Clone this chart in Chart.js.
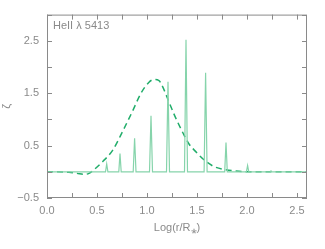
<!DOCTYPE html>
<html>
<head>
<meta charset="utf-8">
<script src="https://cdn.jsdelivr.net/npm/chart.js@4"></script>
<style>
  html, body { margin: 0; padding: 0; background: #fff; }
  #wrap { width: 325px; height: 249px; }
</style>
</head>
<body>
<div id="wrap"><canvas id="chart" width="325" height="249"></canvas></div>
<script>
// dashed (smooth) curve
const dashX = [0.00, 0.09, 0.22, 0.30, 0.37, 0.42, 0.47, 0.56, 0.656, 0.756, 0.856, 0.94, 1.02, 1.07, 1.12, 1.15, 1.21, 1.27, 1.36, 1.42, 1.49, 1.57, 1.67, 1.79, 1.92, 2.10, 2.60];
const dashY = [0.00, 0.00, -0.01, -0.03, -0.05, -0.03, 0.04, 0.20, 0.41, 0.77, 1.16, 1.50, 1.71, 1.76, 1.74, 1.65, 1.38, 1.10, 0.74, 0.53, 0.38, 0.23, 0.10, 0.04, 0.01, 0.00, 0.00];

// solid curve with the narrow spikes
const solidX = [0.00, 0.585, 0.597, 0.609, 0.718, 0.730, 0.742, 0.862, 0.876, 0.890, 1.025, 1.040, 1.055, 1.195, 1.210, 1.225, 1.375, 1.390, 1.405, 1.571, 1.586, 1.601, 1.777, 1.790, 1.803, 1.994, 2.006, 2.018, 2.230, 2.240, 2.250, 2.60];
const solidY = [0.00, 0.00, 0.15, 0.00, 0.00, 0.35, 0.00, 0.00, 0.64, 0.00, 0.00, 1.07, 0.00, 0.00, 1.72, 0.00, 0.00, 2.52, 0.00, 0.00, 1.89, 0.00, 0.00, 0.56, 0.00, 0.00, 0.12, 0.00, 0.00, 0.02, 0.00, 0.00];

const xLabels = [0.0, 0.5, 1.0, 1.5, 2.0, 2.5];
const yLabels = [-0.5, 0.5, 1.5, 2.5];

const gray = '#8a8a8a';
const font = { family: 'Liberation Sans, Arial, sans-serif', size: 11 };

const toPoints = (xs, ys) => xs.map((x, i) => ({ x: x, y: ys[i] }));

// frame, inward tick marks and the line label
const framePlugin = {
    id: 'frame',
    afterDraw(chart) {
        const c = chart.ctx;
        const a = chart.chartArea;
        const sx = chart.scales.x, sy = chart.scales.y;
        c.save();
        c.strokeStyle = gray;
        c.lineWidth = 1;
        c.strokeRect(a.left + 0.5, a.top + 0.5, a.right - a.left - 1, a.bottom - a.top - 1);
        c.beginPath();
        sx.ticks.forEach(t => {
            const px = Math.round(sx.getPixelForValue(t.value)) + 0.5;
            c.moveTo(px, a.bottom); c.lineTo(px, a.bottom - 5);
            c.moveTo(px, a.top); c.lineTo(px, a.top + 5);
        });
        sy.ticks.forEach(t => {
            const py = Math.round(sy.getPixelForValue(t.value)) + 0.5;
            c.moveTo(a.left, py); c.lineTo(a.left + 5, py);
            c.moveTo(a.right, py); c.lineTo(a.right - 5, py);
        });
        c.stroke();
        c.fillStyle = gray;
        c.font = '11px ' + font.family;
        c.textBaseline = 'middle';
        c.fillText('HeII \u03bb 5413', a.left + 6, a.top + 11);
        c.restore();
    }
};

new Chart(document.getElementById('chart'), {
    type: 'scatter',
    data: {
        datasets: [{
            data: toPoints(solidX, solidY),
            showLine: true,
            borderColor: '#86d4ab',
            borderWidth: 1.2,
            pointRadius: 0,
            tension: 0
        }, {
            data: toPoints(dashX, dashY),
            showLine: true,
            borderColor: '#21ad6a',
            borderWidth: 1.5,
            borderDash: [6, 4],
            pointRadius: 0,
            cubicInterpolationMode: 'monotone'
        }]
    },
    options: {
        responsive: false,
        animation: false,
        layout: { padding: { top: 5, right: 18, left: 0, bottom: 14 } },
        plugins: { legend: { display: false }, tooltip: { enabled: false } },
        scales: {
            x: {
                type: 'linear',
                min: 0, max: 2.6,
                afterFit: s => { s.height = 37; },
                grid: { display: false, drawTicks: false },
                border: { display: false },
                ticks: {
                    stepSize: 0.25,
                    includeBounds: false,
                    padding: 6,
                    maxRotation: 0,
                    autoSkip: false,
                    color: gray,
                    font: font,
                    callback: v => xLabels.some(l => Math.abs(l - v) < 1e-6) ? v.toFixed(1) : ''
                },
                title: { display: true, text: 'Log(r/R\u204e)', color: gray, font: font, padding: 0 }
            },
            y: {
                type: 'linear',
                min: -0.5, max: 3.0,
                afterFit: s => { s.width = 47; },
                grid: { display: false, drawTicks: false },
                border: { display: false },
                ticks: {
                    stepSize: 0.5,
                    padding: 8,
                    autoSkip: false,
                    color: gray,
                    font: font,
                    callback: v => yLabels.some(l => Math.abs(l - v) < 1e-6) ? (v < 0 ? '\u2212' + Math.abs(v).toFixed(1) : v.toFixed(1)) : ''
                },
                title: { display: true, text: '\u03b6', color: gray, font: font, padding: 0 }
            }
        }
    },
    plugins: [framePlugin]
});
</script>
</body>
</html>
